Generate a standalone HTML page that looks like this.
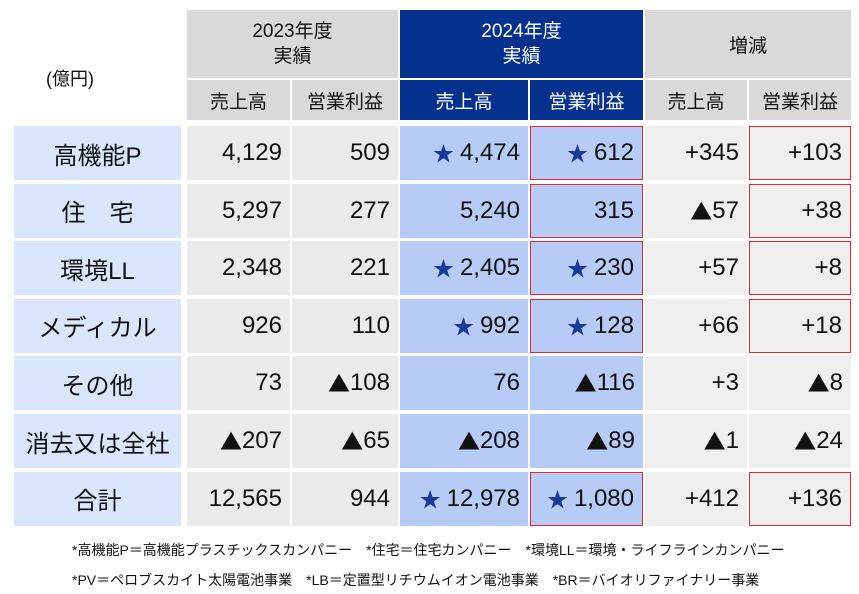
<!DOCTYPE html>
<html><head><meta charset="utf-8"><style>
body{margin:0;width:859px;height:594px;background:#fff;position:relative;overflow:hidden;font-family:"Liberation Sans","Noto Sans CJK JP",sans-serif;color:#111}
.c{position:absolute;box-sizing:border-box;display:flex;align-items:center;font-size:24px;white-space:nowrap}
.r{justify-content:flex-end;padding-right:8px}
.m{justify-content:center;text-align:center}
.st{color:#1a3a9a;font-size:21px;margin-right:6px}
.tr{font-family:"Noto Sans CJK JP",sans-serif;font-size:22px}
.note{position:absolute;font-size:14px;white-space:nowrap;left:72px}
</style></head><body>
<div class="c m" style="left:30px;top:60px;width:80px;height:36px;font-size:18px">(億円)</div>
<div class="c m" style="left:187px;top:10px;width:211px;height:68px;background:#d9d9d9;font-size:19px;line-height:25px">2023年度<br>実績</div>
<div class="c m" style="left:400px;top:10px;width:243px;height:68px;background:#04308e;color:#fff;font-size:19px;line-height:25px">2024年度<br>実績</div>
<div class="c m" style="left:645px;top:10px;width:206px;height:68px;background:#d9d9d9;font-size:19px">増減</div>
<div id="t"></div>
<div class="note" style="top:540px">*高機能P＝高機能プラスチックスカンパニー　*住宅＝住宅カンパニー　*環境LL＝環境・ライフラインカンパニー</div>
<div class="note" style="top:570px">*PV＝ペロブスカイト太陽電池事業　*LB＝定置型リチウムイオン電池事業　*BR＝バイオリファイナリー事業</div>
<script>
const rows=["高機能P","住　宅","環境LL","メディカル","その他","消去又は全社","合計"];
const sales23=["4,129","5,297","2,348","926","73","▲207","12,565"];
const op23=["509","277","221","110","▲108","▲65","944"];
const sales24=["★4,474","5,240","★2,405","★992","76","▲208","★12,978"];
const op24=["★612","315","★230","★128","▲116","▲89","★1,080"];
const dSales=["+345","▲57","+57","+66","+3","▲1","+412"];
const dOp=["+103","+38","+8","+18","▲8","▲24","+136"];
const redOp24=[1,1,1,1,0,0,1];
const redDOp=[1,1,1,1,0,0,1];
const colX=[187,292,400,530,645,749], colW=[103,106,128,113,102,102];
const subH=["売上高","営業利益","売上高","営業利益","売上高","営業利益"];
const subBg=["#d9d9d9","#d9d9d9","#04308e","#04308e","#d9d9d9","#d9d9d9"];
const cellBg=["#ebebeb","#ebebeb","#b7cbf7","#b7cbf7","#efefef","#efefef"];
const t=document.getElementById('t');
function mk(cls,x,y,w,h,html,bg){const d=document.createElement('div');d.className='c '+cls;d.style.cssText=`left:${x}px;top:${y}px;width:${w}px;height:${h}px;background:${bg}`;d.innerHTML=html;t.appendChild(d);return d;}
subH.forEach((s,i)=>{const d=mk('m',colX[i],80,colW[i],40,s,subBg[i]);d.style.fontSize='19px';if(i==2||i==3)d.style.color='#fff';

});
const cols=[sales23,op23,sales24,op24,dSales,dOp];
rows.forEach((r,ri)=>{const y=126+ri*57.6,h=54;
const l=mk('m',14,y,167,h,r,'#dae6fb');


cols.forEach((c,ci)=>{const v=c[ri].replace('★','<span class="st">★</span>').replace('▲','<span class="tr">▲</span>');
const d=mk('r',colX[ci],y,colW[ci],h,v,cellBg[ci]);
if((ci==3&&redOp24[ri])||(ci==5&&redDOp[ri]))d.style.border='1.5px solid #e8262b';

});});
</script>
</body></html>
